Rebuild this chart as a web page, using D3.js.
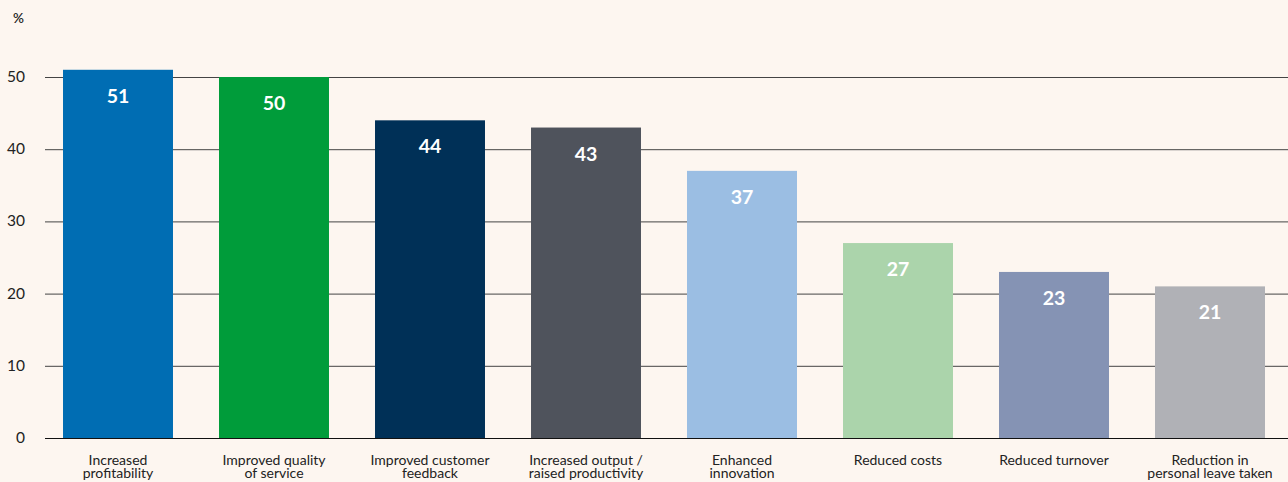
<!DOCTYPE html>
<html>
<head>
<meta charset="utf-8">
<script src="https://cdn.jsdelivr.net/npm/d3@7"></script>
<style>
  body { margin: 0; background: #fdf6f0; }
  svg { display: block; font-family: Lato, "Open Sans", sans-serif; }
</style>
</head>
<body>
<svg id="chart" width="1288" height="482"></svg>
<script>
// data
const categories = [
  ["Increased", "profitability"],
  ["Improved quality", "of service"],
  ["Improved customer", "feedback"],
  ["Increased output /", "raised productivity"],
  ["Enhanced", "innovation"],
  ["Reduced costs"],
  ["Reduced turnover"],
  ["Reduction in", "personal leave taken"]
]
const values = [51, 50, 44, 43, 37, 27, 23, 21]
const barColors = ["#006db3", "#009c3a", "#003057", "#4f535c", "#9bbee3", "#abd4ab", "#8593b4", "#b0b1b6"]
const yTicks = [0, 10, 20, 30, 40, 50]

let svg = d3.select('#chart')
let width = 1288
let pad_left = 40
let pad_bottom = 44

let xScale = d3.scaleBand().domain(d3.range(values.length)).range([pad_left, width])
  .paddingInner(0.295).paddingOuter(0.1475)
let yScale = d3.scaleLinear().domain([0, 50]).range([482 - pad_bottom, 77])

svg.append('rect').attr('width', width).attr('height', 482).attr('fill', '#fdf6f0')

// grid lines
svg.append('g').selectAll('line').data(yTicks).join('line')
  .attr('x1', 45).attr('x2', width)
  .attr('y1', d => yScale(d) + 0.5).attr('y2', d => yScale(d) + 0.5)
  .attr('stroke', d => d === 0 ? '#111' : '#444').attr('stroke-width', 1)

// y tick labels
svg.append('g').selectAll('text').data(yTicks).join('text')
  .text(d => d)
  .attr('x', 25).attr('y', d => yScale(d) + 5)
  .attr('text-anchor', 'end')
  .attr('font-size', 15.5).attr('fill', '#222')

svg.append('text').text('%').attr('x', 13).attr('y', 23)
  .attr('font-size', 13.5).attr('font-weight', 600).attr('fill', '#222')

// bars
svg.append('g').selectAll('rect').data(values).join('rect')
  .attr('x', (d, i) => xScale(i))
  .attr('width', xScale.bandwidth())
  .attr('y', d => yScale(d))
  .attr('height', d => yScale(0) - yScale(d))
  .attr('fill', (d, i) => barColors[i])

// redraw baseline over bars
svg.append('line').attr('x1', 45).attr('x2', width)
  .attr('y1', yScale(0) + 0.5).attr('y2', yScale(0) + 0.5)
  .attr('stroke', '#111')

// value labels
svg.append('g').selectAll('text').data(values).join('text')
  .text(d => d)
  .attr('x', (d, i) => xScale(i) + xScale.bandwidth() / 2)
  .attr('y', d => yScale(d) + 33)
  .attr('text-anchor', 'middle')
  .attr('font-size', 19.5).attr('font-weight', 700).attr('fill', '#fff')

// category labels
let cats = svg.append('g').selectAll('text').data(categories).join('text')
  .attr('x', (d, i) => xScale(i) + xScale.bandwidth() / 2)
  .attr('y', 465)
  .attr('text-anchor', 'middle')
  .attr('font-size', 14).attr('fill', '#222')
cats.selectAll('tspan').data(d => d).join('tspan')
  .attr('x', function() { return d3.select(this.parentNode).attr('x') })
  .attr('dy', (d, i) => i === 0 ? 0 : 13)
  .text(d => d)
</script>
</body>
</html>
